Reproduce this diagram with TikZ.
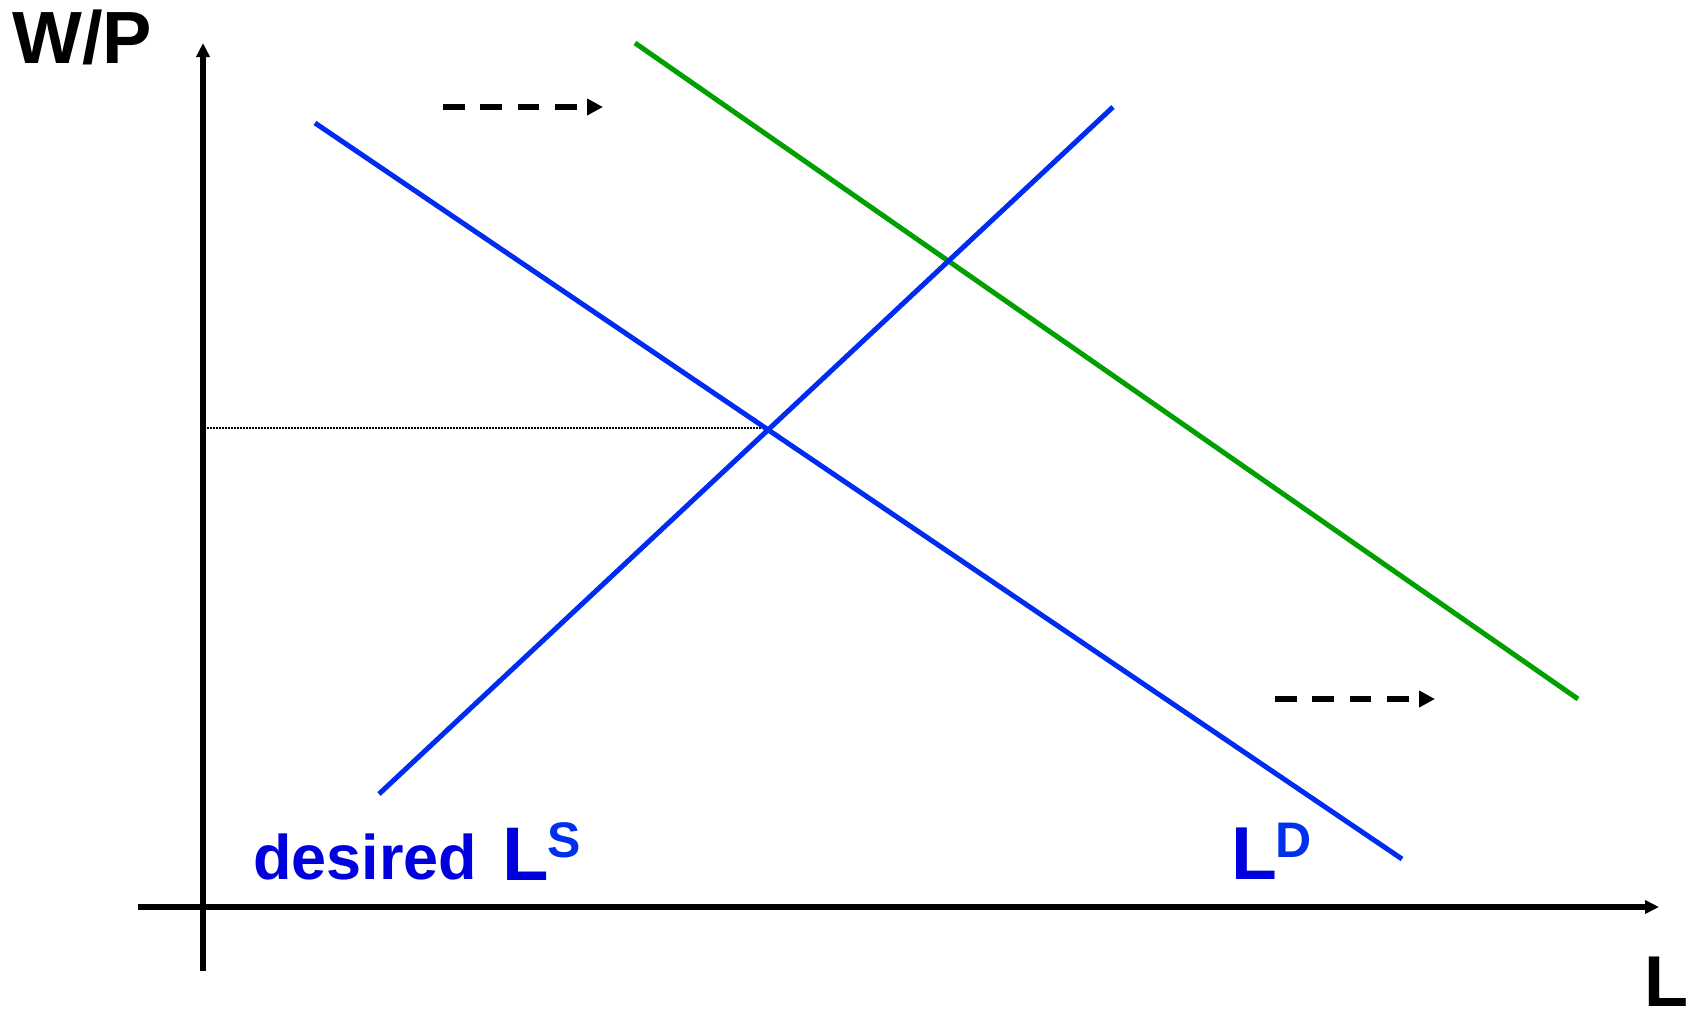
\documentclass[tikz,border=0pt]{standalone}
\usepackage{fontspec}
\setmainfont{Liberation Sans}
\usetikzlibrary{arrows.meta}
\definecolor{lineblue}{RGB}{0,43,240}
\definecolor{textblue}{RGB}{0,0,222}
\definecolor{supblue}{RGB}{0,48,235}
\definecolor{shiftgreen}{RGB}{0,160,0}
\tikzset{
  axis/.style={line width=5.5pt, -{Triangle[length=14pt,width=13pt]}},
  curve/.style={line width=5pt, lineblue},
  shifted/.style={line width=5pt, shiftgreen},
  shiftarrow/.style={line width=6.5pt, dash pattern=on 21.5pt off 15.9pt, -{Triangle[length=16pt,width=16pt]}},
  guide/.style={line width=1.8pt, dash pattern=on 1.6pt off 1.4pt},
  lab/.style={inner sep=0pt, anchor=base west}
}
\begin{document}
\begin{tikzpicture}[x=1pt,y=-1pt]
\useasboundingbox (0,0) rectangle (1691,1010);
% axes
\coordinate (yb) at (203,971);
\coordinate (yt) at (203,43);
\coordinate (xl) at (138,907);
\coordinate (xr) at (1659,907);
\draw[axis] (yb) -- (yt);
\draw[axis] (xl) -- (xr);
% curves
\coordinate (ld1) at (315,123);
\coordinate (ld2) at (1402,859);
\coordinate (ls1) at (379,794);
\coordinate (ls2) at (1113,107);
\coordinate (g1) at (635,43);
\coordinate (g2) at (1578,699);
\coordinate (eq) at (769,428);
\coordinate (eqax) at (207,428);
\draw[guide] (eqax) -- (eq);
\draw[shifted] (g1) -- (g2);
\draw[curve] (ld1) -- (ld2);
\draw[curve] (ls1) -- (ls2);
% shift arrows
\coordinate (a1s) at (443,107);
\coordinate (a1e) at (603,107);
\coordinate (a2s) at (1275,699);
\coordinate (a2e) at (1435,699);
\draw[shiftarrow] (a1s) -- (a1e);
\draw[shiftarrow] (a2s) -- (a2e);
% labels
\node[lab] (wp) at (12,63) {\fontsize{74}{74}\selectfont\bfseries W/P};
\node[lab] (lx) at (1644,1006) {\fontsize{72}{72}\selectfont\bfseries L};
\node[lab, textblue] (des) at (253,879) {\fontsize{63}{63}\selectfont\bfseries desired};
\node[lab, textblue] (lsL) at (502,880) {\fontsize{76}{76}\selectfont\bfseries L};
\node[lab, supblue] (lsS) at (547,857) {\fontsize{50}{50}\selectfont\bfseries S};
\node[lab, textblue] (ldL) at (1231,879) {\fontsize{75}{75}\selectfont\bfseries L};
\node[lab, supblue] (ldD) at (1275,857) {\fontsize{50}{50}\selectfont\bfseries D};
\end{tikzpicture}
\end{document}
